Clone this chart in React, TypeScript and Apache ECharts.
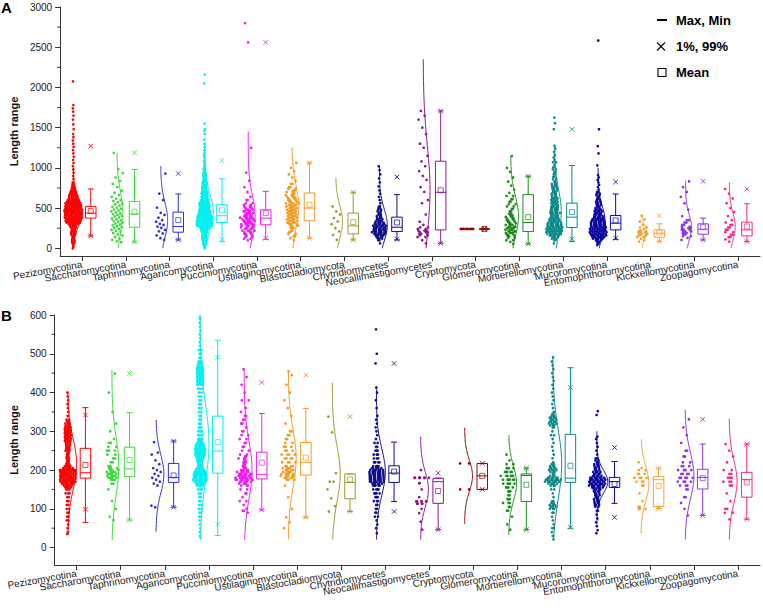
import React, { useEffect, useRef } from "react";
import * as echarts from "echarts";

const categories = [
  "Pezizomycotina", "Saccharomycotina", "Taphrinomycotina", "Agaricomycotina",
  "Pucciniomycotina", "Ustilaginomycotina", "Blastocladiomycota", "Chytridiomycetes",
  "Neocallimastigomycetes", "Cryptomycota", "Glomeromycotina", "Mortierellomycotina",
  "Mucoromycotina", "Entomophthoromycotina", "Kickxellomycotina", "Zoopagomycotina",
];
const colors = [
  "#FF0000", "#3BD83B", "#3030D0", "#00F0F0", "#F01EF0", "#F59B23", "#9A9A33", "#10108A",
  "#8B1A8B", "#8B0A0A", "#1E8C1E", "#0E8A8A", "#0A0AA0", "#F7A030", "#8C35E8", "#EE2A8C",
];

const yLabelsA = [0, 500, 1000, 1500, 2000, 2500, 3000];
const yMinorA = [250, 750, 1250, 1750, 2250, 2750];
const yLabelsB = [0, 100, 200, 300, 400, 500, 600];
const yMinorB = [50, 150, 250, 350, 450, 550];

// Box statistics: [lower whisker, Q1, median, Q3, upper whisker]
const boxA = [
  [154, 375, 437, 521, 737], [79, 262, 425, 583, 979], [104, 200, 271, 450, 675], [83, 321, 404, 542, 862],
  [112, 292, 375, 479, 708], [125, 342, 500, 687, 1062], [104, 179, 279, 437, 696], [104, 208, 262, 387, 667],
  [62, 229, 696, 1083, 1708], [238, 238, 240, 242, 245], [54, 208, 321, 667, 896], [83, 258, 387, 562, 1029],
  [112, 229, 312, 408, 675], [83, 137, 187, 229, 304], [104, 175, 237, 304, 375], [83, 154, 229, 325, 554],
];
const meanA = [462, 454, 350, 471, 437, 542, 325, 321, 721, 240, 387, 450, 346, 196, 262, 271];
const p1A = [154, 79, 104, 110, 125, 125, 104, 112, 62, 238, 54, 117, 125, 83, 104, 83];
const p99A = [1270, 1187, 929, 1092, 2560, 1062, 696, 887, 1708, 245, 896, 1479, 825, 404, 833, 737];
const minA = [75, 79, 104, 75, 112, 125, 104, 100, 62, 238, 54, 83, 100, 83, 104, 83];
const maxA = [2075, 1187, 929, 2160, 2800, 1062, 696, 1021, 1708, 245, 896, 1625, 2583, 404, 833, 737];

const boxB = [
  [65, 179, 193, 256, 361], [71, 183, 203, 259, 348], [104, 168, 181, 217, 275], [31, 192, 249, 339, 535],
  [97, 177, 189, 246, 346], [78, 187, 220, 271, 359], [93, 126, 168, 190, 190], [119, 168, 192, 211, 272],
  [46, 114, 170, 179, 179], [150, 150, 185, 217, 217], [46, 119, 186, 190, 205], [50, 168, 179, 292, 464],
  [114, 155, 170, 181, 222], [101, 106, 175, 183, 205], [83, 151, 181, 202, 267], [73, 130, 176, 194, 267],
];
const meanB = [213, 226, 186, 272, 219, 232, 176, 196, 146, 185, 162, 211, 164, 159, 179, 168];
const p1B = [99, 71, 104, 60, 97, 78, 93, 93, 46, 150, 46, 52, 78, 101, 83, 73];
const p99B = [342, 449, 275, 491, 426, 445, 338, 475, 192, 217, 205, 413, 258, 205, 331, 267];
const minB = [40, 71, 104, 31, 97, 78, 93, 47, 46, 150, 46, 50, 41, 101, 83, 73];
const maxB = [400, 455, 275, 594, 443, 454, 338, 563, 192, 217, 205, 464, 351, 205, 331, 267];

// Half-violin curves: [from, to, centre, spread, width px]
const curveA = [
  [0, 1000, 450, 170, 9], [0, 1187, 450, 250, 6], [0, 1020, 350, 220, 7], [0, 1300, 450, 230, 9],
  [0, 1450, 400, 260, 7], [0, 1250, 520, 260, 7], [0, 875, 330, 200, 7], [0, 1020, 290, 200, 8],
  [0, 2350, 720, 550, 7], [0, 0, 0, 1, 0], [0, 1146, 400, 250, 8], [0, 1292, 450, 280, 7],
  [0, 1000, 340, 180, 7], [0, 417, 200, 80, 5], [0, 842, 260, 160, 6], [0, 825, 270, 170, 6],
];
const curveB = [
  [35, 400, 215, 65, 9], [20, 458, 210, 75, 7], [41, 329, 190, 50, 8], [25, 600, 270, 100, 9],
  [20, 458, 200, 75, 8], [21, 456, 230, 75, 8], [21, 425, 190, 70, 8], [21, 413, 195, 60, 9],
  [21, 286, 150, 45, 8], [61, 309, 185, 40, 8], [33, 290, 165, 45, 8], [21, 491, 215, 90, 9],
  [60, 300, 170, 30, 11], [37, 279, 165, 45, 8], [21, 355, 185, 60, 9], [21, 332, 170, 55, 8],
];

// Individual observations: value, or [value, how many at that value]
const ptsA = [
  [[0,1],[20,1],[40,1],[60,2],[80,2],[100,2],[120,2],[140,2],[160,2],[180,3],[200,3],[220,3],[240,3],[260,4],[280,4],[300,6],[320,8],[340,9],[360,9],[380,10],[400,10],[420,10],[440,10],[460,10],[480,10],[500,9],[520,9],[540,9],[560,9],[580,8],[600,7],[620,5],[640,5],[660,5],[680,4],[700,4],[720,3],[740,2],[760,2],[780,2],[800,2],[820,1],[860,1],[900,1],[940,1],[980,1],[1020,1],[1060,1],[1100,1],[1140,1],[1180,1],[1220,1],[1260,1],[1300,1],[1340,1],[1380,1],[1420,1],[1480,1],[1540,1],[1600,1],[1650,1],[1700,1],[1740,1],[1780,1],[2075,1]],
  [75,88,105,120,140,160,172,190,205,215,228,240,255,262,275,285,296,305,318,330,338,350,362,370,385,395,402,415,425,432,446,458,470,480,492,505,515,530,545,555,572,588,600,618,640,662,690,715,760,800,835,880,935,985,1187],
  [104,125,160,185,210,228,255,270,290,305,330,350,380,415,440,505,600,680,929],
  [[0,1],[20,1],[40,2],[60,2],[80,2],[100,3],[120,3],[140,3],[160,3],[180,3],[200,4],[220,4],[240,5],[260,6],[280,9],[300,9],[320,9],[340,9],[360,8],[380,9],[400,8],[420,7],[440,7],[460,7],[480,6],[500,6],[520,6],[540,6],[560,6],[580,5],[600,5],[620,4],[640,4],[660,4],[680,4],[700,4],[720,3],[740,3],[760,3],[780,3],[800,3],[820,3],[840,2],[860,2],[880,2],[900,2],[920,2],[940,2],[960,1],[980,2],[1000,1],[1020,1],[1040,1],[1060,1],[1080,1],[1100,1],[1130,1],[1160,1],[1190,1],[1220,1],[1260,1],[1300,1],[1350,1],[1420,1],[1460,1],[1480,1],[1550,1],[2050,1],[2160,1]],
  [[100,1],[120,2],[140,2],[160,3],[180,3],[200,3],[220,4],[240,4],[260,5],[280,5],[300,6],[320,6],[340,6],[360,6],[380,6],[400,5],[420,5],[440,4],[460,4],[480,4],[500,3],[520,3],[540,2],[560,2],[600,2],[640,1],[700,1],[760,1],[840,1],[940,1],[1250,1],[2560,1],[2800,1]],
  [[100,1],[125,1],[150,2],[180,2],[200,2],[220,2],[250,3],[280,3],[300,3],[320,4],[340,4],[360,4],[380,4],[400,4],[420,4],[440,4],[460,4],[480,4],[500,4],[520,4],[540,4],[560,4],[580,3],[600,3],[620,3],[640,3],[660,3],[680,2],[700,3],[720,2],[740,2],[760,2],[800,2],[840,1],[880,1],[920,1],[960,1],[1000,1],[1062,1]],
  [104,167,210,250,300,333,375,420,458,520],
  [[60,1],[100,2],[120,3],[140,4],[160,6],[180,7],[200,8],[220,8],[240,8],[260,7],[280,7],[300,6],[320,5],[340,4],[360,4],[380,3],[400,3],[420,3],[440,2],[460,2],[480,2],[500,2],[520,2],[560,1],[600,1],[640,1],[680,1],[720,1],[770,1],[820,1],[870,1],[920,1],[970,1],[1020,1]],
  [[62,1],[100,1],[140,2],[160,2],[180,3],[200,3],[220,3],[240,2],[260,2],[290,1],[330,1],[420,1],[560,1],[600,1],[700,1],[760,1],[850,1],[900,1],[960,1],[1020,1],[1080,1],[1150,1],[1250,1],[1300,1],[1420,1],[1500,1],[1600,1],[1650,1],[1708,1]],
  [[240,8]],
  [[54,1],[80,1],[100,2],[130,2],[150,3],[170,3],[190,4],[210,4],[230,4],[250,5],[270,4],[290,4],[310,3],[330,3],[350,3],[370,3],[390,3],[410,3],[430,3],[460,2],[490,2],[520,2],[550,2],[580,2],[610,2],[650,2],[690,1],[730,1],[780,1],[830,1],[880,1],[950,1],[1000,1],[1146,1]],
  [[60,1],[100,2],[120,3],[140,4],[160,6],[180,8],[200,9],[220,9],[240,9],[260,9],[280,8],[300,8],[320,7],[340,6],[360,6],[380,6],[400,5],[420,5],[440,6],[460,5],[480,5],[500,5],[520,5],[540,4],[560,4],[580,4],[600,4],[620,4],[640,3],[660,3],[680,3],[700,3],[720,3],[740,3],[760,3],[780,3],[800,3],[830,2],[860,2],[890,2],[920,2],[950,2],[980,2],[1010,2],[1040,1],[1070,2],[1100,1],[1130,1],[1160,1],[1200,1],[1240,1],[1270,1],[1480,1],[1555,1],[1625,1]],
  [[40,1],[60,2],[80,3],[100,4],[120,6],[140,8],[160,9],[180,9],[200,9],[220,9],[240,9],[260,9],[280,8],[300,8],[320,8],[340,7],[360,7],[380,6],[400,5],[420,5],[440,4],[460,4],[480,4],[500,3],[520,3],[540,3],[560,3],[580,3],[600,2],[620,2],[640,2],[660,2],[680,2],[700,2],[730,1],[760,1],[790,1],[820,1],[850,1],[880,1],[910,1],[1030,1],[1180,1],[1270,1],[1480,1],[2583,1]],
  [[83,1],[100,1],[120,1],[140,2],[160,2],[170,2],[180,3],[190,3],[200,3],[210,2],[220,2],[240,1],[260,2],[290,1],[330,1],[360,1],[404,1]],
  [[104,1],[130,1],[150,2],[170,2],[190,3],[210,3],[230,3],[250,3],[270,2],[290,2],[320,2],[350,2],[400,1],[480,1],[560,1],[640,1],[700,1],[760,1],[833,1]],
  [[83,1],[110,1],[140,2],[170,2],[200,2],[230,2],[260,2],[290,2],[320,1],[350,1],[400,1],[450,1],[500,1],[560,1],[620,1],[680,1],[737,1]],
];

const ptsB = [
  [[35,1],[40,1],[50,1],[60,1],[70,2],[80,2],[90,2],[100,2],[110,2],[120,2],[130,2],[140,3],[150,3],[155,4],[160,5],[165,7],[170,9],[175,9],[180,9],[185,9],[190,9],[195,9],[200,9],[205,6],[210,4],[215,3],[220,2],[225,2],[230,2],[235,2],[240,2],[245,2],[250,3],[255,3],[260,3],[265,3],[270,3],[275,4],[280,4],[285,4],[290,4],[295,4],[300,4],[305,4],[310,4],[315,3],[320,3],[325,2],[330,2],[340,1],[350,1],[360,1],[370,1],[380,1],[390,1],[400,1]],
  [[71,1],[80,1],[100,1],[120,1],[150,1],[165,2],[175,3],[180,4],[185,4],[190,4],[195,4],[200,3],[205,3],[210,2],[220,2],[230,2],[240,2],[250,3],[260,2],[270,2],[280,1],[300,1],[320,1],[350,1],[400,1],[449,1]],
  [104,108,160,165,170,175,180,185,190,195,200,205,215,225,240,245,272],
  [[25,1],[30,1],[40,1],[50,1],[60,1],[70,1],[80,2],[90,2],[100,2],[110,2],[120,2],[130,2],[140,2],[150,3],[160,4],[165,5],[170,7],[175,8],[180,8],[185,8],[190,8],[195,7],[200,5],[205,4],[210,3],[215,3],[220,3],[225,4],[230,4],[235,5],[240,6],[245,6],[250,6],[255,6],[260,5],[265,5],[270,4],[275,3],[280,3],[290,3],[300,3],[310,2],[320,2],[330,2],[340,2],[350,2],[360,2],[370,2],[380,2],[390,2],[400,2],[410,3],[420,4],[425,4],[430,4],[435,4],[440,4],[445,4],[450,4],[455,4],[460,4],[465,4],[470,3],[475,3],[480,3],[490,2],[500,2],[510,2],[520,1],[530,1],[540,1],[550,1],[560,1],[570,1],[580,1],[590,1],[594,1]],
  [[90,1],[95,2],[100,1],[110,1],[120,2],[130,1],[140,2],[150,2],[160,3],[165,4],[170,6],[175,8],[180,9],[185,8],[190,7],[195,6],[200,5],[205,3],[210,3],[215,2],[220,3],[225,2],[230,3],[235,2],[240,2],[250,2],[260,2],[270,2],[280,2],[290,2],[300,2],[310,1],[320,2],[330,2],[340,2],[350,1],[360,1],[380,2],[400,1],[420,1],[440,1],[460,1]],
  [[50,1],[65,1],[78,1],[100,1],[130,1],[160,1],[175,3],[180,4],[185,5],[190,5],[195,4],[200,4],[205,4],[210,4],[220,4],[230,4],[240,4],[250,3],[260,3],[270,2],[280,2],[290,2],[300,2],[320,1],[340,1],[360,1],[380,1],[400,1],[420,1],[445,1],[455,1]],
  [93,107,127,150,170,170,192,297,338],
  [[37,1],[50,1],[60,1],[70,1],[80,2],[90,2],[100,2],[110,2],[120,3],[130,3],[140,4],[150,4],[160,5],[165,6],[170,8],[175,8],[180,8],[185,8],[190,8],[195,8],[200,7],[205,6],[210,4],[220,4],[230,3],[240,3],[250,3],[260,2],[270,2],[280,1],[290,1],[300,1],[310,1],[320,1],[330,1],[340,1],[360,1],[380,1],[400,1],[413,1],[475,1],[500,1],[563,1]],
  [[46,1],[67,1],[89,1],[100,1],[113,4],[119,7],[130,1],[150,1],[166,2],[180,8],[200,1]],
  [[150,2],[217,2]],
  [[46,1],[60,1],[80,1],[95,2],[105,2],[115,3],[125,3],[135,2],[145,3],[155,4],[165,5],[175,6],[185,6],[195,5],[205,4],[215,2],[225,1],[240,1]],
  [[21,1],[30,1],[40,1],[50,2],[60,1],[70,1],[80,1],[90,2],[100,3],[105,4],[110,4],[115,3],[120,2],[130,1],[140,1],[150,2],[160,3],[165,5],[170,9],[175,9],[180,6],[185,3],[190,2],[195,3],[200,4],[205,4],[210,3],[215,3],[220,1],[230,1],[240,1],[250,1],[260,1],[270,1],[280,1],[290,2],[300,1],[310,2],[315,3],[320,4],[325,4],[330,4],[335,4],[340,3],[345,2],[350,1],[360,1],[370,1],[380,1],[390,1],[400,1],[410,1],[420,1],[430,1],[440,1],[450,1],[460,1],[470,1],[480,1],[491,1]],
  [[37,1],[45,1],[55,1],[65,1],[75,1],[85,1],[95,2],[105,2],[110,3],[115,3],[120,3],[125,3],[130,3],[135,3],[140,3],[145,4],[150,5],[155,7],[160,9],[165,9],[170,9],[175,9],[180,8],[185,5],[190,4],[195,4],[200,3],[205,3],[210,3],[215,3],[220,2],[225,2],[230,2],[240,1],[250,1],[260,1],[270,1],[280,1],[286,1],[342,1],[352,1]],
  [[100,3],[105,2],[120,1],[140,1],[160,2],[170,3],[180,4],[190,3],[200,2],[205,1],[220,1]],
  [[83,1],[100,1],[115,1],[130,2],[150,2],[160,3],[170,4],[180,5],[190,4],[200,4],[210,3],[220,2],[235,2],[250,2],[270,1],[290,1],[310,1],[331,1]],
  [[73,1],[90,2],[100,2],[120,1],[140,1],[160,2],[170,3],[180,3],[190,2],[200,2],[220,1],[235,1],[250,1],[267,1]],
];

// horizontal scatter spread (px) per category, and spacing of points in a row
const jitA = [0.5, 6, 5, 0.5, 4, 4.5, 5, 1, 5, 0.5, 4, 1, 1, 4, 5, 5];
const jitB = [0.5, 5, 5, 0.5, 4, 4.5, 5, 1, 2, 0, 4, 1, 1, 4, 4.5, 5];
const rowGapB = [1.9, 1.9, 1.9, 1.9, 1.9, 1.9, 1.9, 1.9, 1.9, 9, 1.9, 1.9, 1.9, 1.9, 1.9, 1.9];
const rowGapA = new Array(16).fill(1.9);

const W = 763, H = 614;
const GRID_L = 45, GRID_R = 3;
const PX = 16 / (W - GRID_L - GRID_R); // axis units per pixel
const SCAT = -0.2, BOXOFF = 0.2;
const FONT = "'Liberation Sans', Arial, Helvetica, sans-serif";
const AXIS_COLOR = "#333";

const J = (i: number) => (((i * 0.6180339887) % 1) * 2 - 1);

function buildScatter(pts: any[], jit: number[], gap: number[]) {
  const out: number[][] = [];
  let g = 0;
  pts.forEach((rows: any[], ci: number) => {
    rows.forEach((r: any) => {
      const [v, n] = typeof r === "number" ? [r, 1] : r;
      for (let k = 0; k < n; k++) {
        const off = ((k - (n - 1) / 2) * gap[ci] + J(g++) * jit[ci]) * PX;
        out.push([ci + SCAT + off, v, ci]);
      }
    });
  });
  return out;
}

function violinRender(curve: number[][]) {
  return (params: any, api: any) => {
    const ci = params.dataIndex;
    const [lo, hi, mu, sd, w] = curve[ci];
    if (!w) return { type: "group", children: [] };
    const points: number[][] = [];
    const N = 80;
    for (let k = 0; k <= N; k++) {
      const v = lo + ((hi - lo) * k) / N;
      const off = w * PX * Math.exp(-((v - mu) * (v - mu)) / (2 * sd * sd));
      points.push(api.coord([ci + SCAT + off, v]));
    }
    return {
      type: "polyline",
      silent: true,
      shape: { points },
      style: { stroke: colors[ci], fill: "none", lineWidth: 1 },
    };
  };
}

function boxRender(box: number[][], mean: number[], p1: number[], p99: number[], mn: number[], mx: number[]) {
  return (params: any, api: any) => {
    const ci = params.dataIndex;
    const col = colors[ci];
    const cx = ci + BOXOFF;
    const P = (v: number) => api.coord([cx, v]);
    const [wl, q1, md, q3, wh] = box[ci];
    const x = P(md)[0];
    const y = (v: number) => P(v)[1];
    const hw = 5.25;
    const L = (x1: number, y1: number, x2: number, y2: number, o = 1) => ({
      type: "line",
      silent: true,
      shape: { x1, y1, x2, y2 },
      style: { stroke: col, lineWidth: 1, opacity: o },
    });
    const cross = (v: number) => {
      const yy = y(v), s = 2.3;
      return [L(x - s, yy - s, x + s, yy + s, 0.85), L(x - s, yy + s, x + s, yy - s, 0.85)];
    };
    const children: any[] = [
      {
        type: "rect",
        silent: true,
        shape: { x: x - hw, y: y(q3), width: hw * 2, height: Math.max(0.5, y(q1) - y(q3)) },
        style: { stroke: col, fill: "none", lineWidth: 1 },
      },
      L(x - hw, y(md), x + hw, y(md)),
      L(x, y(q3), x, y(wh)),
      L(x, y(q1), x, y(wl)),
      L(x - 3, y(wh), x + 3, y(wh)),
      L(x - 3, y(wl), x + 3, y(wl)),
      L(x - 2.6, y(mn), x + 2.6, y(mn), 0.7),
      L(x - 2.6, y(mx), x + 2.6, y(mx), 0.7),
      ...cross(p1[ci]),
      ...cross(p99[ci]),
      {
        type: "rect",
        silent: true,
        shape: { x: x - 2.5, y: y(mean[ci]) - 2.5, width: 5, height: 5 },
        style: { stroke: col, fill: "none", lineWidth: 0.9, opacity: 0.8 },
      },
    ];
    return { type: "group", children };
  };
}

// short minor ticks on the left axis, placed through the y scale
function minorTickRender(params: any, api: any) {
  const [x, y] = api.coord([-0.5, api.value(1)]);
  return {
    type: "line",
    silent: true,
    shape: { x1: x - 3, y1: y, x2: x, y2: y },
    style: { stroke: AXIS_COLOR, lineWidth: 1 },
  };
}

// value axis used for placing marks (hidden)
function xValueAxis(gi: number) {
  return {
    type: "value",
    gridIndex: gi,
    position: "bottom",
    min: -0.5,
    max: 15.5,
    show: false,
    axisLine: { onZero: false },
    splitLine: { show: false },
  };
}

// category axis that shows the taxon names and ticks
function xCategoryAxis(gi: number) {
  return {
    type: "category",
    gridIndex: gi,
    position: "bottom",
    data: categories,
    boundaryGap: true,
    axisLine: { show: true, onZero: false, lineStyle: { color: AXIS_COLOR, width: 1 } },
    axisTick: { show: true, alignWithLabel: true, interval: 0, length: 5, lineStyle: { color: AXIS_COLOR } },
    axisLabel: {
      interval: 0,
      rotate: 10,
      margin: 8,
      fontSize: 10,
      fontFamily: FONT,
      color: "#1a1a1a",
    },
    splitLine: { show: false },
  };
}

function yAxisCfg(gi: number, min: number, max: number, labels: number[]) {
  return {
    type: "value",
    gridIndex: gi,
    position: "left",
    min,
    max,
    name: "Length range",
    nameLocation: "middle",
    nameGap: 31,
    nameTextStyle: { fontSize: 11, fontWeight: "bold", fontFamily: FONT, color: "#111" },
    axisLine: { show: true, onZero: false, lineStyle: { color: AXIS_COLOR, width: 1 } },
    axisTick: { show: true, customValues: labels, length: 5, lineStyle: { color: AXIS_COLOR } },
    axisLabel: {
      customValues: labels,
      fontSize: 10,
      fontFamily: FONT,
      color: "#1a1a1a",
      margin: 8,
      formatter: (v: number) => String(v),
    },
    splitLine: { show: false },
  };
}

export default function App() {
  const ref = useRef<HTMLDivElement>(null);
  useEffect(() => {
    if (!ref.current) return;
    const chart = echarts.init(ref.current, null, { renderer: "svg" });
    const idx = categories.map((_, i) => [i, 0]);
    const panel = (xi: number, yi: number, pts: any[], jit: number[], gap: number[], curve: number[][],
      box: number[][], mean: number[], p1: number[], p99: number[], mn: number[], mx: number[], minor: number[]) => [
      {
        type: "custom",
        xAxisIndex: xi,
        yAxisIndex: yi,
        data: minor.map((v) => [-0.5, v]),
        renderItem: minorTickRender,
        silent: true,
        clip: false,
        z: 5,
      },
      {
        type: "custom",
        xAxisIndex: xi,
        yAxisIndex: yi,
        data: idx,
        renderItem: violinRender(curve),
        silent: true,
        z: 1,
      },
      {
        type: "scatter",
        xAxisIndex: xi,
        yAxisIndex: yi,
        data: buildScatter(pts, jit, gap),
        symbol: "circle",
        symbolSize: 2.7,
        itemStyle: { color: (p: any) => colors[p.data[2]], opacity: 1 },
        silent: true,
        z: 2,
      },
      {
        type: "custom",
        xAxisIndex: xi,
        yAxisIndex: yi,
        data: idx,
        renderItem: boxRender(box, mean, p1, p99, mn, mx),
        silent: true,
        z: 3,
      },
    ];
    const legendY = [20, 46.5, 72.5];
    chart.setOption({
      animation: false,
      backgroundColor: "#ffffff",
      grid: [
        { left: GRID_L, right: GRID_R, top: 7, height: 249 },
        { left: GRID_L, right: GRID_R, top: 315, height: 250 },
      ],
      xAxis: [xValueAxis(0), xValueAxis(1), xCategoryAxis(0), xCategoryAxis(1)],
      yAxis: [
        yAxisCfg(0, -96, 3000, yLabelsA),
        yAxisCfg(1, -45, 600, yLabelsB),
      ],
      series: [
        ...panel(0, 0, ptsA, jitA, rowGapA, curveA, boxA, meanA, p1A, p99A, minA, maxA, yMinorA),
        ...panel(1, 1, ptsB, jitB, rowGapB, curveB, boxB, meanB, p1B, p99B, minB, maxB, yMinorB),
      ],
      graphic: [
        { type: "text", left: 1, top: 0, style: { text: "A", font: `bold 15px ${FONT}`, fill: "#000" } },
        { type: "text", left: 1, top: 308, style: { text: "B", font: `bold 15px ${FONT}`, fill: "#000" } },
        { type: "line", shape: { x1: 657, y1: legendY[0], x2: 667, y2: legendY[0] }, style: { stroke: "#000", lineWidth: 2 } },
        { type: "line", shape: { x1: 657, y1: legendY[1] - 4, x2: 665, y2: legendY[1] + 4 }, style: { stroke: "#000", lineWidth: 1.1 } },
        { type: "line", shape: { x1: 657, y1: legendY[1] + 4, x2: 665, y2: legendY[1] - 4 }, style: { stroke: "#000", lineWidth: 1.1 } },
        { type: "rect", shape: { x: 658, y: legendY[2] - 4, width: 8, height: 8 }, style: { stroke: "#000", fill: "none", lineWidth: 1.1 } },
        { type: "text", x: 676, y: legendY[0], style: { text: "Max, Min", font: `bold 13px ${FONT}`, fill: "#000", verticalAlign: "middle" } },
        { type: "text", x: 676, y: legendY[1], style: { text: "1%, 99%", font: `bold 13px ${FONT}`, fill: "#000", verticalAlign: "middle" } },
        { type: "text", x: 676, y: legendY[2], style: { text: "Mean", font: `bold 13px ${FONT}`, fill: "#000", verticalAlign: "middle" } },
      ],
    });
    return () => chart.dispose();
  }, []);
  return <div ref={ref} style={{ position: "absolute", left: 0, top: 0, width: W, height: H }} />;
}
